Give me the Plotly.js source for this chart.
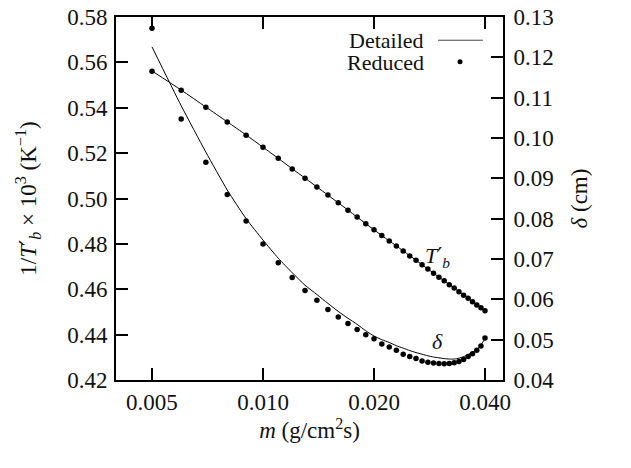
<!DOCTYPE html>
<html>
<head>
<meta charset="utf-8">
<script src="https://cdn.plot.ly/plotly-3.0.1.min.js"></script>
<style>html,body{margin:0;padding:0;background:#fff;}#chart{width:631px;height:468px;}</style>
</head>
<body>
<div id="chart"></div>
<script>
// mass burning rate m (g/cm^2 s)
const m = [0.005,0.006,0.007,0.008,0.009,0.010,0.011,0.012,0.013,0.014,0.015,0.016,0.017,0.018,0.019,0.020,
           0.021,0.022,0.023,0.024,0.025,0.026,0.027,0.028,0.029,0.030,0.031,0.032,0.033,0.034,0.035,0.036,
           0.037,0.038,0.039,0.040];

// 1/T'_b x 10^3 (K^-1), left axis
const tbReduced = [0.5561,0.5477,0.5402,0.5337,0.5279,0.5226,0.5177,0.5130,0.5089,0.5051,0.5015,0.4981,
                   0.4948,0.4918,0.4889,0.4862,0.4837,0.4813,0.4791,0.4769,0.4747,0.4728,0.4708,0.4689,
                   0.4671,0.4653,0.4637,0.4620,0.4605,0.4589,0.4574,0.4560,0.4545,0.4531,0.4518,0.4505];
const tbDetailed = [0.5562,0.5478,0.5403,0.5338,0.5280,0.5226,0.5177,0.5131,0.5090,0.5051,0.5015,0.4981,
                    0.4949,0.4918,0.4889,0.4862,0.4837,0.4813,0.4791,0.4769,0.4748,0.4728,0.4708,0.4689,
                    0.4671,0.4654,0.4637,0.4621,0.4605,0.4590,0.4575,0.4560,0.4546,0.4532,0.4518,0.4505];

// delta (cm), right axis
const dReduced = [0.1272,0.1047,0.0940,0.0860,0.0794,0.0737,0.0691,0.0654,0.0622,0.0598,0.0575,0.0556,
                  0.0540,0.0525,0.0512,0.0502,0.0489,0.0482,0.0474,0.0464,0.0458,0.0453,0.0447,0.0444,
                  0.0442,0.0441,0.0440,0.0441,0.0443,0.0446,0.0451,0.0458,0.0465,0.0474,0.0484,0.0504];
const dDetailed = [0.1226,0.1080,0.0965,0.0871,0.0800,0.0747,0.0702,0.0666,0.0635,0.0612,0.0590,0.0570,
                   0.0553,0.0538,0.0522,0.0509,0.0500,0.0493,0.0485,0.0479,0.0473,0.0468,0.0464,0.0460,
                   0.0457,0.0455,0.0453,0.0452,0.0452,0.0454,0.0458,0.0463,0.0469,0.0476,0.0487,0.0503];

const xTicks = [0.005,0.010,0.020,0.040];
const xTickText = ['0.005','0.010','0.020','0.040'];

const FONT = 'Liberation Serif, Times New Roman, serif';
const PRIME = '<span style="font-family:DejaVu Sans">′</span>';
const lineStyle = {color:'#000', width:1, shape:'spline', smoothing:0.6};
const dotStyle = {color:'#000', size:5.5};

const traces = [
  {x:m, y:tbDetailed, mode:'lines', line:lineStyle, yaxis:'y', name:'Detailed', showlegend:false, hoverinfo:'skip'},
  {x:m, y:tbReduced, mode:'markers', marker:dotStyle, yaxis:'y', name:'Reduced', showlegend:false, hoverinfo:'skip'},
  {x:m, y:dDetailed, mode:'lines', line:lineStyle, yaxis:'y2', name:'Detailed', showlegend:false, hoverinfo:'skip'},
  {x:m, y:dReduced, mode:'markers', marker:dotStyle, yaxis:'y2', name:'Reduced', showlegend:false, hoverinfo:'skip'}
];

const axisCommon = {
  showgrid:false, zeroline:false, showline:true, linecolor:'#000', linewidth:2,
  ticks:'inside', ticklen:12, tickwidth:2, tickcolor:'#000',
  tickfont:{family:FONT, size:23, color:'#111'}
};
const titleFont = {family:FONT, size:23, color:'#111'};

const layout = {
  width:631, height:468,
  margin:{l:116, r:128, t:17, b:88},
  paper_bgcolor:'#fff', plot_bgcolor:'#fff',
  font:{family:FONT, color:'#111'},
  showlegend:false,
  xaxis: Object.assign({}, axisCommon, {
    type:'log', range:[Math.log10(0.005)-0.0976, Math.log10(0.04)+0.0488],
    tickvals:xTicks, ticktext:xTickText, mirror:'ticks',
    title:{text:'<i>m</i> (g/cm<sup>2</sup>s)', font:titleFont, standoff:6}
  }),
  yaxis: Object.assign({}, axisCommon, {
    range:[0.42,0.58], dtick:0.02, tick0:0.42, tickformat:'.2f', ticklabelstandoff:2,
    title:{text:'1/<i>T</i>' + PRIME + '<sub><i>b</i></sub> × 10<sup>3</sup> (K<sup>−1</sup>)', font:titleFont, standoff:24}
  }),
  yaxis2: Object.assign({}, axisCommon, {
    overlaying:'y', side:'right', range:[0.04,0.13], dtick:0.01, tick0:0.04, tickformat:'.2f', ticklabelstandoff:4,
    title:{text:'<i>δ</i> (cm)', font:titleFont, standoff:18}
  }),
  annotations:[
    {xref:'paper', yref:'paper', x:0.7984, y:0.934, xanchor:'right', yanchor:'middle', showarrow:false, borderpad:0,
     height:19, text:'Detailed', font:{family:FONT, size:22, color:'#111'}},
    {xref:'paper', yref:'paper', x:0.7984, y:0.876, xanchor:'right', yanchor:'middle', showarrow:false, borderpad:0,
     height:19, text:'Reduced', font:{family:FONT, size:22, color:'#111'}},
    {xref:'paper', yref:'paper', x:0.832, y:0.339, xanchor:'center', yanchor:'middle', showarrow:false,
     text:'<i>T</i>' + PRIME + '<sub><i>b</i></sub>', font:{family:FONT, size:22, color:'#111'}},
    {xref:'paper', yref:'paper', x:0.832, y:0.107, xanchor:'center', yanchor:'middle', showarrow:false,
     text:'<i>δ</i>', font:{family:FONT, size:22, color:'#111'}}
  ],
  shapes:[
    {type:'line', xref:'paper', yref:'paper', x0:0.832, x1:0.948, y0:0.936, y1:0.936, line:{color:'#444', width:1}},
    {type:'circle', xref:'paper', yref:'paper', xsizemode:'pixel', ysizemode:'pixel',
     xanchor:0.889, yanchor:0.877, x0:-2.5, x1:2.5, y0:-2.5, y1:2.5, fillcolor:'#000', line:{width:0}}
  ]
};

Plotly.newPlot('chart', traces, layout, {staticPlot:true, displayModeBar:false});
</script>
</body>
</html>
